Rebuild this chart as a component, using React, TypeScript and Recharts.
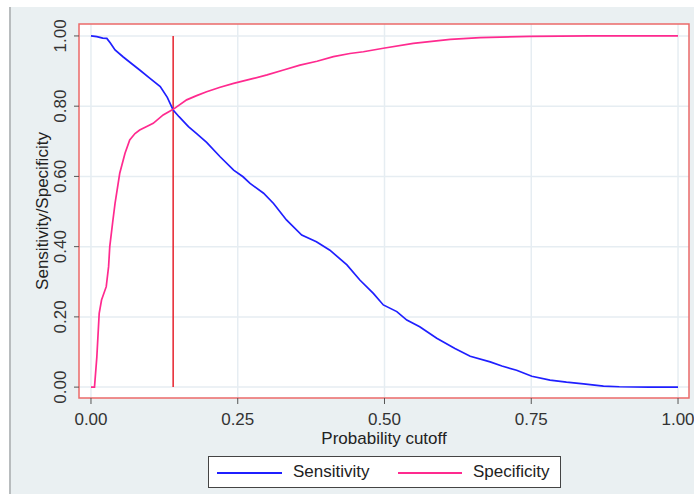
import React from "react";
import { LineChart, Line, XAxis, YAxis, CartesianGrid, ReferenceLine, ReferenceArea } from "recharts";

const FONT = "'Liberation Sans', Arial, sans-serif";

// probability cutoff vs sensitivity
const sensX = [0, 0.01, 0.02, 0.027, 0.033, 0.041, 0.055, 0.07, 0.083, 0.1, 0.118, 0.13, 0.14, 0.15, 0.166, 0.18, 0.197, 0.22, 0.243, 0.259, 0.271, 0.294, 0.311, 0.333, 0.359, 0.384, 0.407, 0.436, 0.458, 0.481, 0.498, 0.521, 0.538, 0.56, 0.589, 0.62, 0.646, 0.68, 0.7, 0.725, 0.751, 0.782, 0.81, 0.839, 0.873, 0.9, 0.95, 1.0];
const sensY = [1.0, 0.998, 0.994, 0.993, 0.98, 0.96, 0.94, 0.92, 0.903, 0.88, 0.856, 0.825, 0.789, 0.77, 0.742, 0.722, 0.697, 0.656, 0.618, 0.599, 0.58, 0.552, 0.523, 0.476, 0.433, 0.414, 0.39, 0.348, 0.305, 0.267, 0.234, 0.215, 0.191, 0.172, 0.139, 0.11, 0.088, 0.072, 0.06, 0.048, 0.031, 0.02, 0.014, 0.009, 0.003, 0.001, 0.0, 0.0];

// probability cutoff vs specificity
const specX = [0, 0.006, 0.01, 0.014, 0.018, 0.026, 0.03, 0.032, 0.037, 0.041, 0.049, 0.058, 0.066, 0.075, 0.083, 0.095, 0.106, 0.123, 0.14, 0.163, 0.18, 0.197, 0.22, 0.243, 0.277, 0.3, 0.328, 0.356, 0.385, 0.413, 0.441, 0.464, 0.498, 0.549, 0.612, 0.663, 0.748, 0.85, 1.0];
const specY = [0, 0, 0.086, 0.21, 0.248, 0.286, 0.343, 0.4, 0.47, 0.523, 0.609, 0.666, 0.704, 0.722, 0.732, 0.742, 0.751, 0.775, 0.791, 0.818, 0.83, 0.841, 0.854, 0.865, 0.879, 0.889, 0.903, 0.917, 0.928, 0.941, 0.95, 0.955, 0.965, 0.979, 0.99, 0.995, 0.999, 1.0, 1.0];

const xTicks = [0, 0.25, 0.5, 0.75, 1];
const yTicks = [0, 0.2, 0.4, 0.6, 0.8, 1];
const cutoff = 0.14;

const sensData = sensX.map((x, i) => ({ x, y: sensY[i] }));
const specData = specX.map((x, i) => ({ x, y: specY[i] }));

const X_DOMAIN: [number, number] = [-0.0204, 1.0187];
const Y_DOMAIN: [number, number] = [-0.031, 1.034];

const YTick = (props: any) => {
  const { y, payload } = props;
  const x = 60;
  return (
    <text x={x} y={y} transform={`rotate(-90, ${x}, ${y})`} textAnchor="middle" dy="0.36em"
      fontSize={17} fill="#333" fontFamily={FONT}>
      {Number(payload.value).toFixed(2)}
    </text>
  );
};

const YTitle = (props: any) => {
  const vb = props.viewBox || {};
  const cy = vb.y + vb.height / 2;
  const x = 42;
  return (
    <text x={x} y={cy} transform={`rotate(-90, ${x}, ${cy})`} textAnchor="middle" dy="0.36em"
      fontSize={17} fill="#222" fontFamily={FONT}>
      Sensitivity/Specificity
    </text>
  );
};

const XTitle = (props: any) => {
  const vb = props.viewBox || {};
  const cx = vb.x + vb.width / 2;
  return (
    <text x={cx} y={444} textAnchor="middle" fontSize={17} fill="#222" fontFamily={FONT}>
      Probability cutoff
    </text>
  );
};

export default function App() {
  return (
    <div style={{ position: "absolute", left: 0, top: 0, width: 694, height: 494, background: "#fff", fontFamily: FONT }}>
      <div style={{ position: "absolute", left: 9, top: 7, width: 683, height: 487, background: "#eaf0f2", borderLeft: "2px solid #b8bcbe" }} />
      <div style={{ position: "absolute", left: 0, top: 0 }}>
        <LineChart width={694} height={494} margin={{ top: 24, right: 5, bottom: 56, left: 39 }}>
          <CartesianGrid fill="#fff" stroke="#e6edf2" strokeWidth={1.5} horizontalValues={yTicks} verticalValues={xTicks} />
          <XAxis
            type="number"
            dataKey="x"
            domain={X_DOMAIN}
            allowDataOverflow
            ticks={xTicks}
            tickFormatter={(v: number) => v.toFixed(2)}
            axisLine={false}
            tickLine={{ stroke: "#555" }}
            tickSize={6}
            tickMargin={9}
            height={40}
            tick={{ fontSize: 17, fill: "#333", fontFamily: FONT }}
            label={{ content: XTitle }}
          />
          <YAxis
            type="number"
            dataKey="y"
            domain={Y_DOMAIN}
            allowDataOverflow
            ticks={yTicks}
            axisLine={false}
            tickLine={{ stroke: "#555" }}
            tickSize={5}
            width={40}
            tick={<YTick />}
            label={{ content: YTitle }}
          />
          <ReferenceArea x1={X_DOMAIN[0]} x2={X_DOMAIN[1]} y1={Y_DOMAIN[0]} y2={Y_DOMAIN[1]} fill="none" fillOpacity={0} stroke="#ec6a6a" strokeWidth={1.5} ifOverflow="visible" />
          <ReferenceLine segment={[{ x: cutoff, y: 0 }, { x: cutoff, y: 1 }]} stroke="#e8303a" strokeWidth={1.6} />
          <Line data={sensData} dataKey="y" type="linear" stroke="#1f1fff" strokeWidth={1.7} dot={false} isAnimationActive={false} name="Sensitivity" />
          <Line data={specData} dataKey="y" type="linear" stroke="#ff2a8f" strokeWidth={1.7} dot={false} isAnimationActive={false} name="Specificity" />
        </LineChart>
      </div>
      <div style={{ position: "absolute", left: 208, top: 456, width: 351, height: 30, background: "#fff", border: "1px solid #444", fontSize: 17, color: "#222" }}>
        <div style={{ position: "absolute", left: 8, top: 15, width: 65, height: 2, background: "#1f1fff" }} />
        <div style={{ position: "absolute", left: 84, top: 5, lineHeight: "20px" }}>Sensitivity</div>
        <div style={{ position: "absolute", left: 189, top: 15, width: 64, height: 2, background: "#ff2a8f" }} />
        <div style={{ position: "absolute", left: 264, top: 5, lineHeight: "20px" }}>Specificity</div>
      </div>
    </div>
  );
}
